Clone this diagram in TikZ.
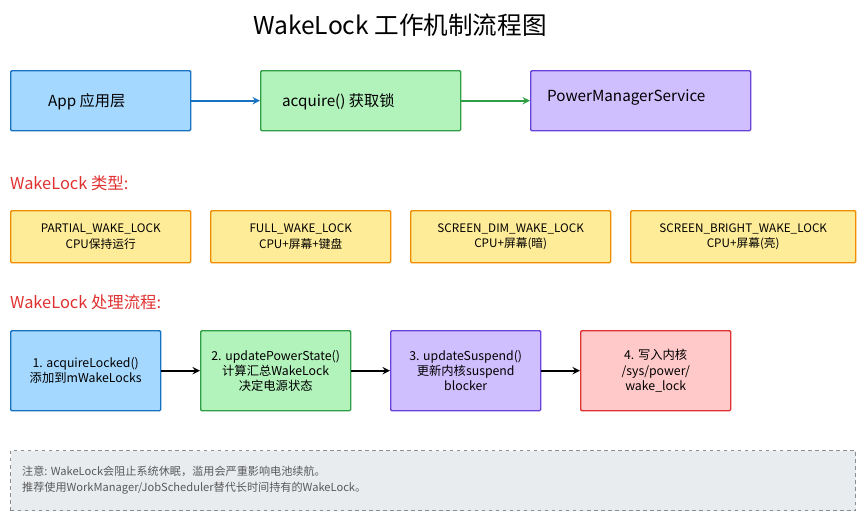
\documentclass[tikz,border=0pt]{standalone}
\usepackage{fontspec}
\setmainfont{Noto Sans CJK SC}
\usetikzlibrary{positioning}
\definecolor{bluefill}{HTML}{A5D8FF}\definecolor{bluedraw}{HTML}{1971C2}
\definecolor{greenfill}{HTML}{B2F2BB}\definecolor{greendraw}{HTML}{2F9E44}
\definecolor{purplefill}{HTML}{D0BFFF}\definecolor{purpledraw}{HTML}{6741D9}
\definecolor{yellowfill}{HTML}{FFEC99}\definecolor{yellowdraw}{HTML}{F08C00}
\definecolor{redfill}{HTML}{FFC9C9}\definecolor{reddraw}{HTML}{E03131}
\definecolor{notefill}{HTML}{E9ECEF}\definecolor{notedraw}{HTML}{868E96}
\begin{document}
\begin{tikzpicture}[x=0.03cm,y=-0.03cm]
    \tikzset{
        box/.style={draw=#1draw, fill=#1fill, line width=1.2pt, rounded corners=1pt,
            anchor=north west, inner sep=0pt},
        toptext/.style={font=\fontsize{13}{15}\selectfont, anchor=west},
        kind/.style={font=\fontsize{10}{13}\selectfont, align=center},
        steptext/.style={font=\fontsize{10.5}{13}\selectfont, align=center},
        heading/.style={font=\fontsize{14}{16}\selectfont, text=reddraw, anchor=west},
        flow/.style={->, line width=1.8pt, >=stealth},
    }
    \useasboundingbox (0,0) rectangle (866,521);

    % Title
    \node[font=\fontsize{21}{24}\selectfont] (title) at (400,25) {WakeLock 工作机制流程图};

    % Top row
    \node[box=blue, minimum width=180*0.03cm, minimum height=60*0.03cm] (app) at (10,70) {};
    \node[box=green, minimum width=200*0.03cm, minimum height=60*0.03cm] (acq) at (260,70) {};
    \node[box=purple, minimum width=220*0.03cm, minimum height=60*0.03cm] (pms) at (530,70) {};
    \node[toptext] at (44,102) {App 应用层};
    \node[toptext] at (278,102) {acquire() 获取锁};
    \node[toptext] at (543,97) {PowerManagerService};
    \draw[flow, bluedraw] (app.east) -- (acq.west);
    \draw[flow, greendraw] (acq.east) -- (pms.west);

    % WakeLock kinds
    \node[heading] (kinds) at (6,183) {WakeLock 类型:};
    \foreach \name/\x/\w/\a/\b in {partial/10/180/PARTIAL\_WAKE\_LOCK/CPU保持运行,
        full/210/180/FULL\_WAKE\_LOCK/CPU+屏幕+键盘,
        dim/410/200/SCREEN\_DIM\_WAKE\_LOCK/CPU+屏幕(暗),
        bright/630/225/SCREEN\_BRIGHT\_WAKE\_LOCK/CPU+屏幕(亮)}{
        \node[box=yellow, minimum width=\w*0.03cm, minimum height=52*0.03cm] (\name) at (\x,210) {};
        \node[kind] at (\name.center) {\a\\\b};
    }

    % Processing steps
    \node[heading] (steps) at (6,302) {WakeLock 处理流程:};
    \node[box=blue, minimum width=150*0.03cm, minimum height=80*0.03cm] (s1) at (10,330) {};
    \node[box=green, minimum width=150*0.03cm, minimum height=80*0.03cm] (s2) at (200,330) {};
    \node[box=purple, minimum width=150*0.03cm, minimum height=80*0.03cm] (s3) at (390,330) {};
    \node[box=red, minimum width=150*0.03cm, minimum height=80*0.03cm] (s4) at (580,330) {};
    \node[steptext] at (s1.center) {1. acquireLocked()\\添加到mWakeLocks};
    \node[steptext] at (s2.center) {2. updatePowerState()\\计算汇总WakeLock\\决定电源状态};
    \node[steptext] at (s3.center) {3. updateSuspend()\\更新内核suspend\\blocker};
    \node[steptext] at (s4.center) {4. 写入内核\\/sys/power/\\wake\_lock};
    \draw[flow] (s1.east) -- (s2.west);
    \draw[flow] (s2.east) -- (s3.west);
    \draw[flow] (s3.east) -- (s4.west);

    % Note
    \node[draw=notedraw, fill=notefill, dashed, line width=1pt, anchor=north west,
        minimum width=845*0.03cm, minimum height=60*0.03cm] (note) at (10,450) {};
    \node[font=\fontsize{9.5}{14}\selectfont, text=black!65, align=left, anchor=west]
        at (18,480) {注意: WakeLock会阻止系统休眠，滥用会严重影响电池续航。\\推荐使用WorkManager/JobScheduler替代长时间持有的WakeLock。};
\end{tikzpicture}
\end{document}
